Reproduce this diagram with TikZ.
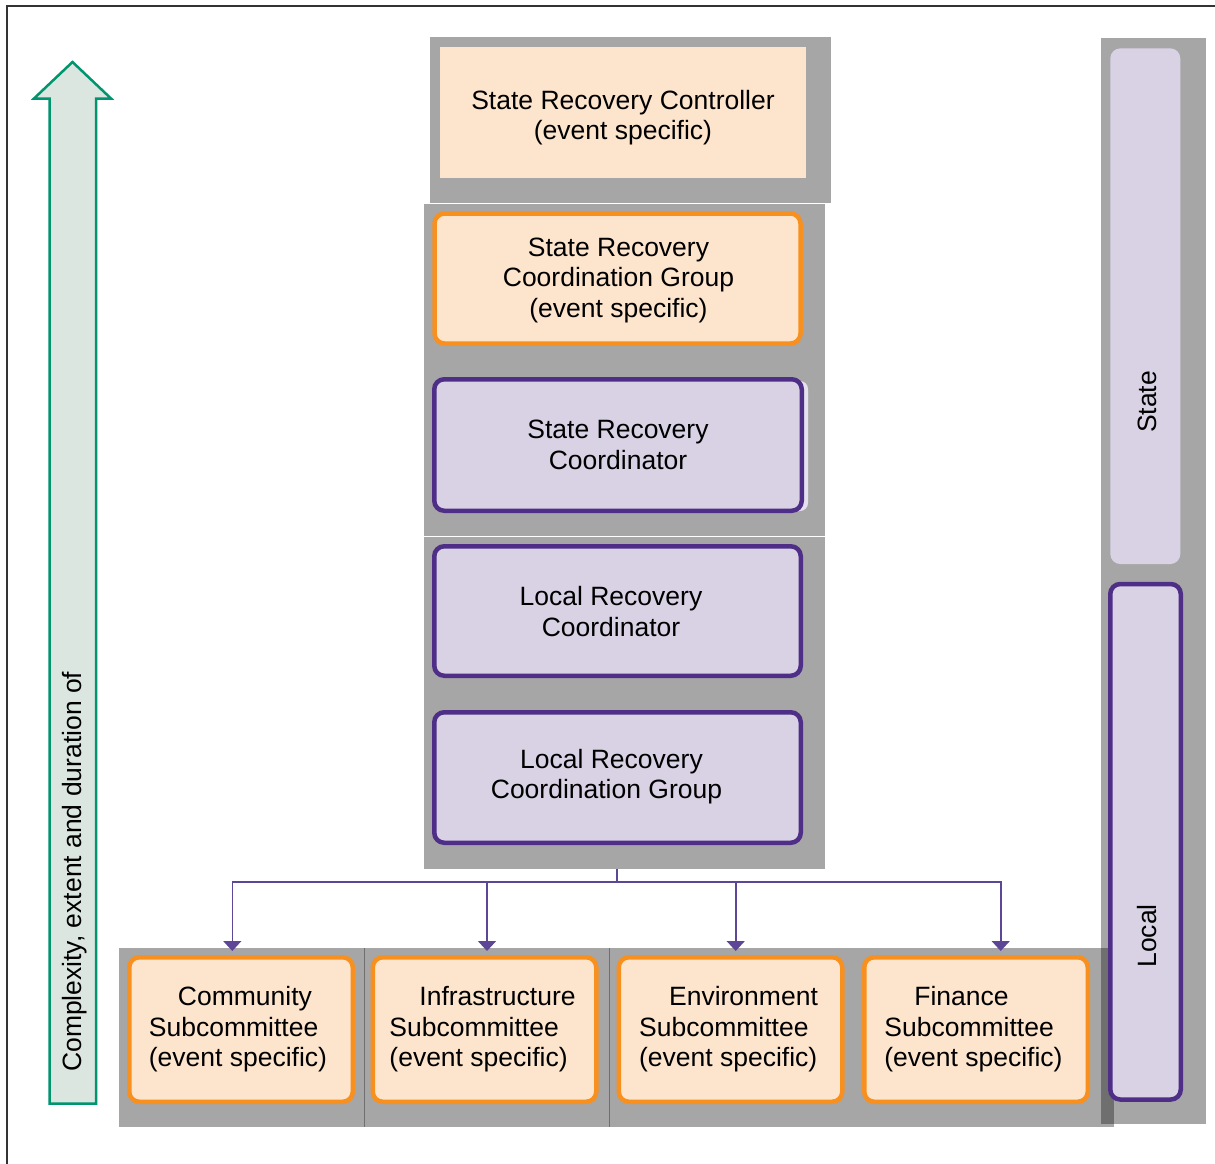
\documentclass[tikz,border=0pt]{standalone}
\usepackage{fontspec}
\setmainfont{Liberation Sans}
\usetikzlibrary{arrows.meta}
\definecolor{grayblk}{HTML}{A6A6A6}
\definecolor{darkstrip}{HTML}{6F6F6F}
\definecolor{peach}{HTML}{FDE4CC}
\definecolor{orangeb}{HTML}{F7901E}
\definecolor{lav}{HTML}{D9D2E5}
\definecolor{lavshadow}{HTML}{E6E1EE}
\definecolor{purpb}{HTML}{4E2E87}
\definecolor{connc}{HTML}{5E4696}
\definecolor{greenb}{HTML}{00956E}
\definecolor{greenf}{HTML}{DCE6E0}
\definecolor{framec}{HTML}{333333}
\begin{document}
\begin{tikzpicture}[x=1pt,y=-1pt,
  txt/.style={font=\fontsize{26.5}{30.5}\selectfont, text=black},
  lbl/.style={txt, align=center, inner sep=0pt},
  grayblock/.style={fill=grayblk, draw=none, inner sep=0pt, rectangle},
  orbox/.style={txt, draw=orangeb, line width=4.5pt, fill=peach, rounded corners=10pt, align=center, inner sep=0pt},
  pubox/.style={txt, draw=purpb, line width=4.5pt, fill=lav, rounded corners=10pt, align=center, inner sep=0pt},
  subbox/.style={orbox, align=left, minimum width=223.5pt, minimum height=144.5pt},
  conn/.style={draw=connc, line width=1.6pt},
  arr/.style={conn, -{Triangle[width=18pt,length=10pt]}},
  sep/.style={draw=darkstrip, line width=1pt},
]
\useasboundingbox (0,0) rectangle (1215,1164);
\fill[white] (0,0) rectangle (1215,1164);

% frame
\coordinate (fr1) at (7,1164);
\coordinate (fr2) at (7,6);
\coordinate (fr3) at (1215,6);
\draw[framec, line width=1.5pt] (fr1) -- (fr2) -- (fr3);

% green arrow
\draw[draw=greenb, fill=greenf, line width=2.5pt]
  (49.5,1103.5) -- (49.5,98.5) -- (34,98.5) -- (72.5,62) -- (111,98.5) -- (96,98.5) -- (96,1103.5) -- cycle;
\node (axis) [txt, rotate=90, anchor=west, inner sep=0pt] at (75,1072) {Complexity, extent and duration of};

% right column
\node (gr) [grayblock, minimum width=105pt, minimum height=1086pt] at (1153.5,580.7) {};
\node (statebar) [fill=lav, rounded corners=10pt, inner sep=0pt, minimum width=70pt, minimum height=515.7pt] at (1145.3,306.2) {};
\node (statetxt) [txt, rotate=90] at (1147,402) {State};

% gray blocks (centre column)
\node (g1) [grayblock, minimum width=401pt, minimum height=165.7pt] at (630.5,119.85) {};
\node (g2) [grayblock, minimum width=401pt, minimum height=332.3pt] at (624.5,369.85) {};
\node (g3) [grayblock, minimum width=401pt, minimum height=331.7pt] at (624.5,702.85) {};

% bottom gray block
\node (g4) [grayblock, minimum width=994.7pt, minimum height=178.4pt] at (616.35,1037.5) {};
\fill[darkstrip] (1101,948.3) rectangle (1113.7,1123.7);
\coordinate (s1t) at (364.3,948.3);
\coordinate (s1b) at (364.3,1126.7);
\coordinate (s2t) at (609.3,948.3);
\coordinate (s2b) at (609.3,1126.7);
\draw[sep] (s1t) -- (s1b);
\draw[sep] (s2t) -- (s2b);

% local bar
\node (localbar) [draw=purpb, line width=4.5pt, fill=lav, rounded corners=10pt, inner sep=0pt, minimum width=70.5pt, minimum height=515.5pt] at (1145.5,841.75) {};
\node (localtxt) [txt, rotate=90] at (1147,936) {Local};

% centre boxes
\node (src) [fill=peach, inner sep=0pt, minimum width=366pt, minimum height=131pt] at (623,112.2) {};
\node (srctxt) [lbl] at (623,117.5) {State Recovery Controller\\(event specific)};
\node (srcg) [orbox, minimum width=366pt, minimum height=130pt] at (617.5,278.5) {};
\node (srcgtxt) [lbl] at (618.5,280) {State Recovery\\Coordination Group\\(event specific)};
\fill[lavshadow, rounded corners=8pt] (440,381) rectangle (808,511);
\node (srcoord) [pubox, minimum width=367.5pt, minimum height=131.5pt] at (618,445) {State Recovery\\Coordinator};
\node (lrc) [pubox, minimum width=366.5pt, minimum height=129.5pt] at (617.5,611) {};
\node (lrctxt) [lbl] at (611,611.5) {Local Recovery\\Coordinator};
\node (lrcg) [pubox, minimum width=366.5pt, minimum height=130.5pt] at (617.5,777.5) {};
\node (lrcgtxt1) [lbl] at (611.5,762) {Local Recovery};
\node (lrcgtxt2) [lbl] at (606.5,792) {Coordination Group};

% subcommittees
\node (comm) [subbox] at (241,1029.5) {};
\node (commtxt) [lbl, align=left] at (238,1029.5) {\hspace*{29pt}Community\\Subcommittee\\(event specific)};
\node (infra) [subbox] at (484.5,1029.5) {};
\node (infratxt) [lbl, align=left] at (482.5,1029.5) {\hspace*{30pt}Infrastructure\\Subcommittee\\(event specific)};
\node (env) [subbox] at (730.5,1029.5) {};
\node (envtxt) [lbl, align=left] at (728.5,1029.5) {\hspace*{30pt}Environment\\Subcommittee\\(event specific)};
\node (fin) [subbox] at (976,1029.5) {};
\node (fintxt) [lbl, align=left] at (973.5,1029.5) {\hspace*{30pt}Finance\\Subcommittee\\(event specific)};

% connectors
\coordinate (hub) at (617,882);
\coordinate (t1) at (232.3,951);
\coordinate (t2) at (487,951);
\coordinate (t3) at (735.7,951);
\coordinate (t4) at (1000.7,951);
\draw[conn] (g3.south -| hub) -- (hub);
\draw[arr] (hub) -| (t1);
\draw[arr] (hub) -| (t2);
\draw[arr] (hub) -| (t3);
\draw[arr] (hub) -| (t4);
\end{tikzpicture}
\end{document}
